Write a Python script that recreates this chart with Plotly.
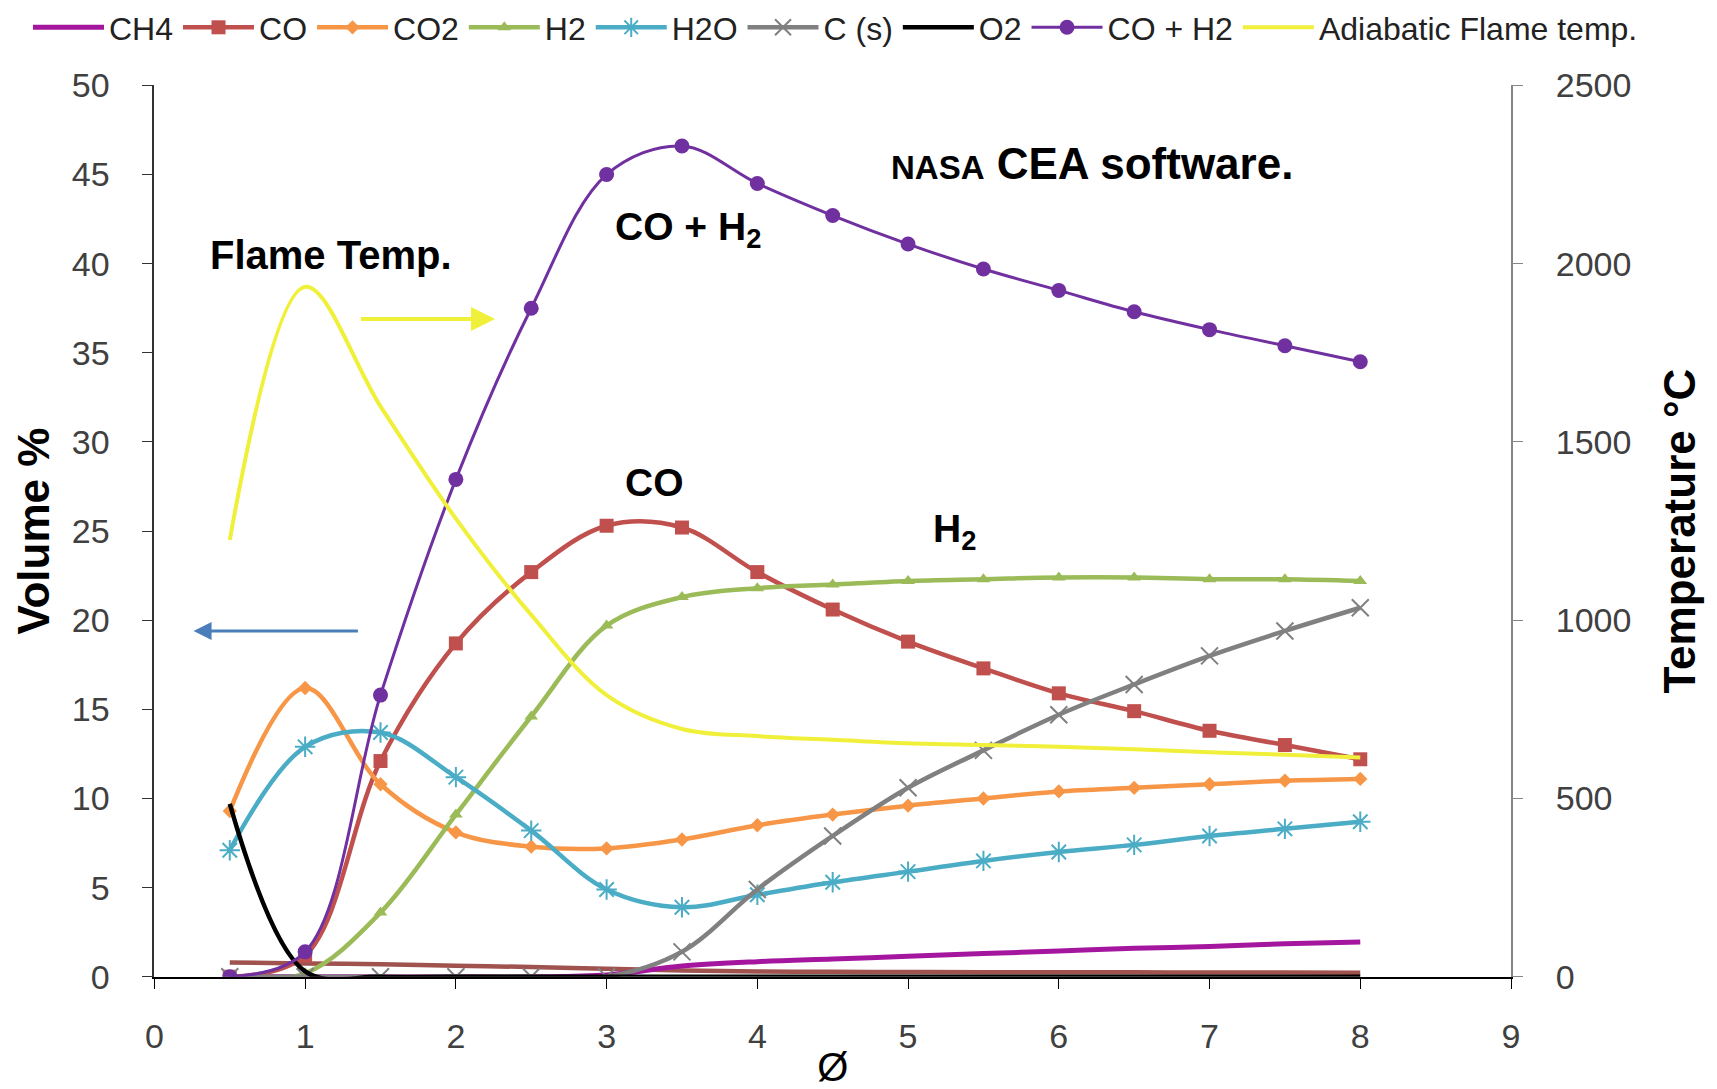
import plotly.graph_objects as go

phi = [0.5, 1, 1.5, 2, 2.5, 3, 3.5, 4, 4.5, 5, 5.5, 6, 6.5, 7, 7.5, 8]

ch4 = [0, 0, 0, 0, 0, 0.1, 0.6, 0.85, 1.0, 1.15, 1.3, 1.45, 1.6, 1.7, 1.85, 1.95]
co = [0, 1.2, 12.1, 18.7, 22.7, 25.3, 25.2, 22.7, 20.6, 18.8, 17.3, 15.9, 14.9, 13.8, 13.0, 12.2]
co2 = [9.3, 16.2, 10.8, 8.1, 7.3, 7.2, 7.7, 8.5, 9.1, 9.6, 10.0, 10.4, 10.6, 10.8, 11.0, 11.1]
h2 = [0, 0.2, 3.6, 9.1, 14.6, 19.7, 21.3, 21.8, 22.0, 22.2, 22.3, 22.4, 22.4, 22.3, 22.3, 22.2]
h2o = [7.1, 12.9, 13.7, 11.2, 8.2, 4.9, 3.9, 4.6, 5.3, 5.9, 6.5, 7.0, 7.4, 7.9, 8.3, 8.7]
c_s = [0, 0, 0, 0, 0, 0, 1.4, 4.9, 7.9, 10.6, 12.7, 14.7, 16.4, 18.0, 19.4, 20.7]
o2 = [9.7, 0.3, 0, 0, 0, 0, 0, 0, 0, 0, 0, 0, 0, 0, 0, 0]
co_h2 = [0, 1.4, 15.8, 27.9, 37.5, 45.0, 46.6, 44.5, 42.7, 41.1, 39.7, 38.5, 37.3, 36.3, 35.4, 34.5]
flame_temp = [1225, 1935, 1600, 1285, 1015, 790, 695, 675, 665, 655, 650, 645, 638, 630, 623, 615]
minor_species = [0.8, 0.75, 0.7, 0.62, 0.55, 0.45, 0.35, 0.3, 0.28, 0.27, 0.26, 0.25, 0.25, 0.24, 0.24, 0.23]

x_ticks = list(range(0, 10))
y_ticks = list(range(0, 51, 5))
t_ticks = list(range(0, 2501, 500))

FONT = "Liberation Sans"
W, H = 1717, 1089
PL, PR, PT, PB = 154.4, 1511.0, 85.4, 976.8  # plot area in pixels

fig = go.Figure()

fig.add_trace(go.Scatter(x=phi, y=minor_species, mode="lines", line=dict(color="#A0524F", width=4.5, shape="spline"),
                         showlegend=False, hoverinfo="skip"))
fig.add_trace(go.Scatter(x=phi, y=ch4, name="CH4", mode="lines",
                         line=dict(color="#A5169E", width=5, shape="spline")))
fig.add_trace(go.Scatter(x=phi, y=co, name="CO", mode="lines+markers",
                         line=dict(color="#C0504D", width=4.5, shape="spline"),
                         marker=dict(symbol="square", size=14, color="#C0504D")))
fig.add_trace(go.Scatter(x=phi, y=co2, name="CO2", mode="lines+markers",
                         line=dict(color="#F79646", width=4.5, shape="spline"),
                         marker=dict(symbol="diamond", size=11, color="#F79646")))
fig.add_trace(go.Scatter(x=phi, y=h2, name="H2", mode="lines+markers",
                         line=dict(color="#9BBB59", width=4.5, shape="spline"),
                         marker=dict(symbol="triangle-up", size=12, color="#9BBB59")))
fig.add_trace(go.Scatter(x=phi, y=h2o, name="H2O", mode="lines+markers",
                         line=dict(color="#4BACC6", width=4.5, shape="spline"),
                         marker=dict(symbol="asterisk-open", size=17, color="#4BACC6",
                                     line=dict(color="#4BACC6", width=2))))
fig.add_trace(go.Scatter(x=phi, y=c_s, name="C (s)", mode="lines+markers",
                         line=dict(color="#808080", width=4.5, shape="spline"),
                         marker=dict(symbol="x-thin-open", size=17, color="#808080",
                                     line=dict(color="#808080", width=2))))
fig.add_trace(go.Scatter(x=phi, y=o2, name="O2", mode="lines",
                         line=dict(color="#000000", width=4.5, shape="spline")))
fig.add_trace(go.Scatter(x=phi, y=co_h2, name="CO + H2", mode="lines+markers",
                         line=dict(color="#7030A0", width=3, shape="spline"),
                         marker=dict(symbol="circle", size=15, color="#7030A0")))
fig.add_trace(go.Scatter(x=phi, y=flame_temp, name="Adiabatic Flame temp.", mode="lines",
                         yaxis="y2", line=dict(color="#F0F03A", width=4, shape="spline")))

ann_font = dict(family=FONT, size=39, color="#000000")
annotations = [
    dict(x=6.22, y=45.6, text="<b><span style='font-size:33px'>NASA</span> CEA software.</b>",
         showarrow=False, font=dict(family=FONT, size=44, color="#000000")),
    dict(x=3.54, y=41.9, text="<b>CO + H<sub>2</sub></b>", showarrow=False, font=ann_font),
    dict(x=1.17, y=40.5, text="<b>Flame Temp.</b>", showarrow=False, font=dict(family=FONT, size=40, color="#000000")),
    dict(x=3.32, y=27.7, text="<b>CO</b>", showarrow=False, font=ann_font),
    dict(x=5.31, y=25.0, text="<b>H<sub>2</sub></b>", showarrow=False, font=ann_font),
    dict(x=2.26, y=36.9, ax=1.36, ay=36.9, axref="x", ayref="y", xref="x", yref="y", text="",
         showarrow=True, arrowhead=2, arrowsize=1.2, arrowwidth=4, arrowcolor="#F0F03A"),
    dict(x=0.26, y=19.4, ax=1.36, ay=19.4, axref="x", ayref="y", xref="x", yref="y", text="",
         showarrow=True, arrowhead=2, arrowsize=1.2, arrowwidth=3, arrowcolor="#4A7EBB"),
]

tick_font = dict(family=FONT, size=34, color="#404040")

fig.update_layout(
    width=W, height=H,
    margin=dict(l=0, r=0, t=0, b=0, autoexpand=False),
    paper_bgcolor="white", plot_bgcolor="white",
    annotations=annotations,
    legend=dict(orientation="h", x=28 / W, xanchor="left", y=1.0, yanchor="top",
                font=dict(family=FONT, size=32, color="#222222"),
                itemwidth=71, tracegroupgap=0, bgcolor="rgba(0,0,0,0)"),
    xaxis=dict(domain=[PL / W, PR / W], range=[0, 9], tickvals=x_ticks, ticktext=[str(v) for v in x_ticks],
               showgrid=False, zeroline=False, showline=True, linecolor="#000000", linewidth=2,
               ticks="outside", ticklen=10, tickcolor="#000000", tickfont=tick_font,
               ticklabelstandoff=18, automargin=False,
               title=dict(text="Ø", font=dict(family=FONT, size=40, color="#000000"), standoff=4)),
    yaxis=dict(domain=[(H - PB) / H, (H - PT) / H], range=[0, 50], tickvals=y_ticks,
               ticktext=[str(v) for v in y_ticks],
               showgrid=False, zeroline=False, showline=True, linecolor="#333333", linewidth=2,
               ticks="outside", ticklen=10, tickcolor="#333333", tickfont=tick_font,
               ticklabelstandoff=26, automargin=False,
               title=dict(text="<b>Volume %</b>", font=dict(family=FONT, size=44, color="#000000"), standoff=8)),
    yaxis2=dict(range=[0, 2500], tickvals=t_ticks, ticktext=[str(v) for v in t_ticks],
                overlaying="y", side="right", anchor="x",
                showgrid=False, zeroline=False, showline=True, linecolor="#868686", linewidth=2,
                ticks="outside", ticklen=10, tickcolor="#868686", tickfont=tick_font,
                ticklabelstandoff=26, automargin=False,
                title=dict(text="<b>Temperature °C</b>", font=dict(family=FONT, size=44, color="#000000"), standoff=34)),
)

fig.write_html("out.html")
